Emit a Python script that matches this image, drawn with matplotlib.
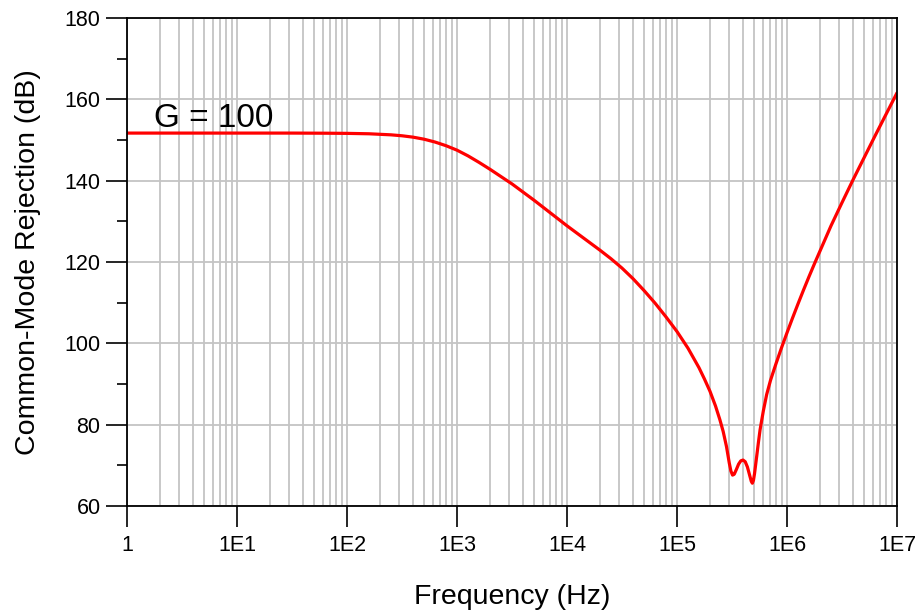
import matplotlib
matplotlib.use("Agg")
import matplotlib.pyplot as plt
import numpy as np
from matplotlib.ticker import FixedLocator, LogLocator, NullFormatter

# log10(frequency in Hz) and CMR (dB)
log_freq = [0.0, 0.5, 1.0, 1.5, 1.8, 2.0, 2.2, 2.4, 2.5, 2.6, 2.7, 2.8, 2.9,
            3.0, 3.1, 3.2, 3.3, 3.4, 3.5, 3.6, 3.7, 3.8, 3.9, 4.0, 4.1, 4.2,
            4.3, 4.4, 4.5, 4.6, 4.7, 4.8, 4.9, 5.0, 5.1, 5.2, 5.25, 5.3, 5.35, 5.39,
            5.42, 5.45, 5.475, 5.49, 5.505, 5.52, 5.54, 5.56, 5.58, 5.60, 5.62,
            5.64, 5.66, 5.675, 5.685, 5.695, 5.705, 5.724, 5.74, 5.755, 5.785,
            5.815, 5.85, 5.9, 5.95, 6.0, 6.05, 6.1, 6.15, 6.2, 6.25, 6.3, 6.4,
            6.5, 6.6, 6.7, 6.8, 6.9, 7.0]
cmr_db = [151.7, 151.7, 151.7, 151.7, 151.67, 151.63, 151.53, 151.27, 151.04, 150.7,
          150.2, 149.5, 148.6,
          147.5, 146.1, 144.5, 142.8, 141.0, 139.2, 137.2, 135.2, 133.1, 131.0, 128.9,
          126.9, 124.9,
          122.9, 120.8, 118.5, 115.9, 113.0, 109.9, 106.5, 102.9, 98.8, 94.0, 91.2, 88.2,
          84.6, 81.2,
          78.3, 74.6, 70.6, 68.6, 67.6, 67.8, 69.0, 70.3, 71.1, 71.3, 70.9,
          69.6, 67.6, 66.1, 65.6, 66.3, 68.0, 72.1, 75.6, 78.7, 83.4,
          87.4, 90.9, 95.0, 98.9, 102.6, 106.2, 109.7, 113.1, 116.4, 119.6, 122.7, 128.9,
          134.6, 140.2, 145.6, 151.0, 156.3, 161.6]

xtick_vals = [1, 1e1, 1e2, 1e3, 1e4, 1e5, 1e6, 1e7]
xtick_labels = ["1", "1E1", "1E2", "1E3", "1E4", "1E5", "1E6", "1E7"]
ytick_vals = [60, 80, 100, 120, 140, 160, 180]
yminor_vals = [70, 90, 110, 130, 150, 170]

plt.rcParams['font.family'] = ['Liberation Sans', 'DejaVu Sans']

freq = [10 ** v for v in log_freq]

fig = plt.figure(figsize=(9.2, 6.15), dpi=100)
ax = fig.add_axes([127 / 920, 109 / 615, 770 / 920, 488 / 615])

ax.set_xscale('log')
ax.set_xlim(1, 1e7)
ax.set_ylim(60, 180)

# grid
ax.xaxis.set_major_locator(FixedLocator(xtick_vals))
ax.xaxis.set_minor_locator(LogLocator(base=10, subs=np.arange(2, 10), numticks=100))
ax.xaxis.set_minor_formatter(NullFormatter())
ax.set_xticklabels(xtick_labels)
ax.yaxis.set_major_locator(FixedLocator(ytick_vals))
ax.yaxis.set_minor_locator(FixedLocator(yminor_vals))

ax.grid(True, which='major', axis='both', color='#c4c4c4', linewidth=1.3)
ax.grid(True, which='minor', axis='x', color='#c4c4c4', linewidth=1.3)
ax.set_axisbelow(True)

ax.tick_params(axis='x', which='major', direction='out', length=15, width=1.2,
               labelsize=15.5, pad=6, colors='black')
ax.tick_params(axis='x', which='minor', length=0)
ax.tick_params(axis='y', which='major', direction='out', length=15, width=1.2,
               labelsize=15.5, pad=4, colors='black')
ax.tick_params(axis='y', which='minor', direction='out', length=7.5, width=1.2)

for s in ax.spines.values():
    s.set_color('black')
    s.set_linewidth(1.3)
    s.set_zorder(5)

ax.plot(freq, cmr_db, color='#ff0000', linewidth=2.3, solid_joinstyle='round',
        solid_capstyle='round', zorder=4)

ax.text(1.75, 155.3, "G = 100", fontsize=24, ha='left', va='center', color='black')

ax.set_xlabel("Frequency (Hz)", fontsize=20.5, labelpad=20)
ax.set_ylabel("Common-Mode Rejection (dB)", fontsize=20.5, labelpad=17)

fig.savefig("out.png", dpi=100)
